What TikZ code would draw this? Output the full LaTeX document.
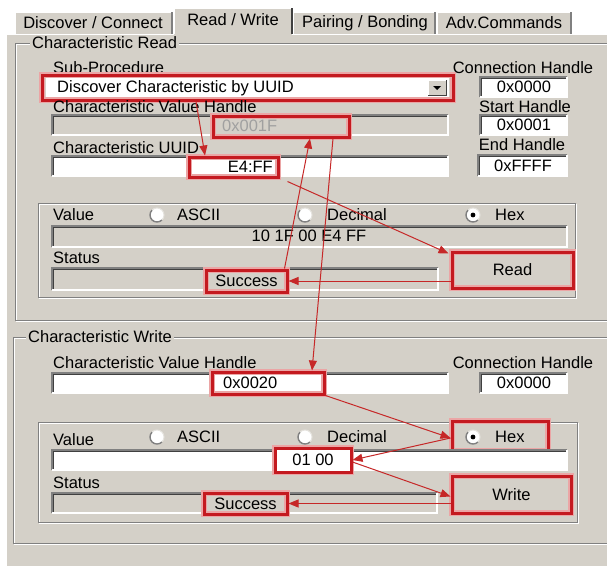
\documentclass[tikz,border=0pt]{standalone}
\usepackage{fontspec}
\setmainfont{Liberation Sans}
\usetikzlibrary{arrows.meta,calc}
\definecolor{win}{HTML}{D4D0C8}
\definecolor{shadow}{HTML}{808080}
\definecolor{dkshadow}{HTML}{404040}
\definecolor{boxred}{HTML}{C41A20}
\definecolor{halo}{HTML}{EBA5A5}
\definecolor{arrred}{HTML}{C62828}
\definecolor{greytxt}{HTML}{A0A0A0}
\newcommand\fld[5]{%
  \fill[#5] (#1,#2) rectangle (#3,#4);
  \draw[shadow,line width=1.5pt] (#1,#4) -- (#1,#2) -- (#3,#2);
  \draw[white,line width=1.5pt] (#3,#2) -- (#3,#4) -- (#1,#4);
  \draw[dkshadow,line width=1pt] (#1+1.5,#4-1.5) -- (#1+1.5,#2+1.5) -- (#3-1.5,#2+1.5);
}
\newcommand\etch[4]{%
  \draw[white,line width=1pt] (#1+1,#2+1) rectangle (#3+1,#4+1);
  \draw[shadow,line width=1pt] (#1,#2) rectangle (#3,#4);
}
\newcommand\radiob[3]{%
  \fill[white] (#1,#2) circle (7);
  \draw[shadow,line width=1.4pt] (#1,#2) ++(45:7) arc (45:225:7);
  \draw[win!60!white,line width=1pt] (#1,#2) ++(225:7) arc (225:405:7);
  \ifx#3y\fill[black] (#1,#2) circle (2.4);\fi
}
\begin{document}
\begin{tikzpicture}[x=1pt,y=-1pt,font=\fontsize{16.5}{19}\selectfont,
  lbl/.style={inner sep=0pt,anchor=west},
  ctr/.style={inner sep=0pt},
  redbox/.style={draw=boxred,line width=3pt,inner sep=0pt,preaction={draw=halo,line width=6pt}},
  conn/.style={draw=arrred,line width=1pt,-{Triangle[length=10pt,width=8pt]}}]
\useasboundingbox (0,0) rectangle (607,566);
\clip (0,0) rectangle (607,566);
\fill[white] (0,0) rectangle (607,566);
% panel
\fill[win] (6,34) rectangle (607,566);
\draw[white,line width=1.5pt] (6,566) -- (6,34) -- (607,34);
% tabs
\fill[win] (15,12) rectangle (172,33.5);
\draw[white,line width=1.5pt] (15,33.5) -- (15,12) -- (172,12);
\draw[shadow,line width=1.2pt] (172,12) -- (172,33.5);
\fill[win] (294,12) rectangle (435,33.5);
\draw[white,line width=1.5pt] (294,12) -- (435,12);
\draw[shadow,line width=1.2pt] (435,12) -- (435,33.5);
\fill[win] (437,12) rectangle (571,33.5);
\draw[white,line width=1.5pt] (437,33.5) -- (437,12) -- (571,12);
\draw[shadow,line width=1.2pt] (571,12) -- (571,33.5);
\fill[win] (174,8) rectangle (292,36);
\draw[white,line width=1.5pt] (174,34) -- (174,8) -- (292,8);
\draw[dkshadow,line width=1.5pt] (292,8) -- (292,34);
\node[ctr] (tab1) at (93,23) {Discover / Connect};
\node[ctr] (tab2) at (233,20) {Read / Write};
\node[ctr] (tab3) at (365,23) {Pairing / Bonding};
\node[ctr] (tab4) at (504,23) {Adv.Commands};
% ---------------- Characteristic Read
\etch{15}{43}{615}{320}
\node[lbl,fill=win,inner xsep=2pt] (grpR) at (30,43) {Characteristic Read};
\node[lbl] (lsub) at (53,68) {Sub-Procedure};
\fill[white] (46,78) rectangle (449,97);
\node[lbl] (tsub) at (57,88) {Discover Characteristic by UUID};
\fill[win] (428,80) rectangle (446,95);
\draw[white,line width=1pt] (428,95) -- (428,80) -- (446,80);
\draw[dkshadow,line width=1pt] (446,80) -- (446,95) -- (428,95);
\fill[black] (433,86) -- (441,86) -- (437,90) -- cycle;
\node[redbox,minimum width=411pt,minimum height=25pt] (sub) at (247.5,87.5) {};
\node[ctr] (lconn) at (523,68) {Connection Handle};
\fld{480}{77}{567}{97}{white}
\node[ctr] (tconn) at (524,87) {0x0000};
\node[ctr] (lstart) at (525,107) {Start Handle};
\fld{480}{115}{567}{135}{white}
\node[ctr] (tstart) at (524,125) {0x0001};
\node[ctr] (lend) at (522,145) {End Handle};
\fld{478}{155}{567}{176}{white}
\node[ctr] (tend) at (523,166) {0xFFFF};
\node[lbl] (lcvh) at (53,107) {Characteristic Value Handle};
\fld{52}{115}{448}{135}{win}
\node[redbox,minimum width=136pt,minimum height=21pt] (h1F) at (281,126.5) {};
\node[lbl,text=greytxt] (t1F) at (222,126) {0x001F};
\node[lbl] (luuid) at (53,148) {Characteristic UUID};
\fld{52}{156}{448}{176}{white}
\node[redbox,minimum width=89pt,minimum height=20pt] (uuid) at (233.5,167) {};
\node[ctr,anchor=east] (tuuid) at (273,167) {E4:FF};
\etch{38}{203}{575}{297}
\node[lbl] (lvalR) at (53,215) {Value};
\radiob{157}{215}{n}
\radiob{305}{215}{n}
\radiob{473}{215}{y}
\node[lbl] (asciiR) at (177,215) {ASCII};
\node[lbl] (decR) at (327,215) {Decimal};
\node[lbl] (hexR) at (495,215) {Hex};
\fld{52}{226}{567}{247}{win}
\node[ctr] (tvalR) at (309,236) {10 1F 00 E4 FF};
\node[lbl] (lstatR) at (53,258) {Status};
\fld{52}{268}{438}{290}{win}
\node[redbox,minimum width=81pt,minimum height=22pt] (succR) at (246.5,281) {Success};
\node[redbox,minimum width=121pt,minimum height=36pt] (readB) at (512.5,270) {Read};
% ---------------- Characteristic Write
\etch{13}{337}{615}{543}
\node[lbl,fill=win,inner xsep=2pt] (grpW) at (26,337) {Characteristic Write};
\node[lbl] (lcvhW) at (53,363) {Characteristic Value Handle};
\fld{52}{373}{448}{393}{white}
\node[redbox,minimum width=112pt,minimum height=22pt] (h20) at (268,383) {};
\node[lbl] (t20) at (223,383) {0x0020};
\node[ctr] (lconnW) at (523,363) {Connection Handle};
\fld{480}{373}{567}{393}{white}
\node[ctr] (tconnW) at (524,383) {0x0000};
\etch{38}{422}{577}{522}
\node[lbl] (lvalW) at (53,440) {Value};
\radiob{157}{437}{n}
\radiob{305}{437}{n}
\radiob{473}{437}{y}
\node[lbl] (asciiW) at (177,437) {ASCII};
\node[lbl] (decW) at (327,437) {Decimal};
\node[lbl] (hexW) at (495,437) {Hex};
\node[redbox,minimum width=96pt,minimum height=30pt] (hexB) at (500,436) {};
\fld{52}{450}{567}{470}{white}
\node[redbox,fill=white,minimum width=76pt,minimum height=24pt] (v0100) at (313,460) {01 00};
\node[lbl] (lstatW) at (53,483) {Status};
\fld{52}{493}{437}{513}{win}
\node[redbox,minimum width=83pt,minimum height=21pt] (succW) at (245.5,503.5) {Success};
\node[redbox,minimum width=119pt,minimum height=37pt] (writeB) at (511.5,494.5) {Write};
% ---------------- connectors
\draw[conn] ([xshift=-51.5pt]sub.south) -- ([xshift=-28.5pt]uuid.north);
\draw[conn] ($(uuid.south east)+(8,3)$) -- ($(readB.north west)+(-2,3)$);
\draw[conn] ([xshift=-4pt]succR.north east) -- ([xshift=29pt]h1F.south);
\draw[conn] (readB.west |- succR.east) -- (succR.east);
\draw[conn] ([xshift=52pt]h1F.south) -- ([xshift=44pt]h20.north);
\draw[conn] (h20.south east) -- ($(hexB.west)+(0,2)$);
\draw[conn] ($(hexB.west)+(0,2)$) -- (v0100.east);
\draw[conn] ($(v0100.east)+(0,2)$) -- ($(writeB.west)+(0,2)$);
\draw[conn] (writeB.west |- succW.east) -- (succW.east);
\end{tikzpicture}
\end{document}
